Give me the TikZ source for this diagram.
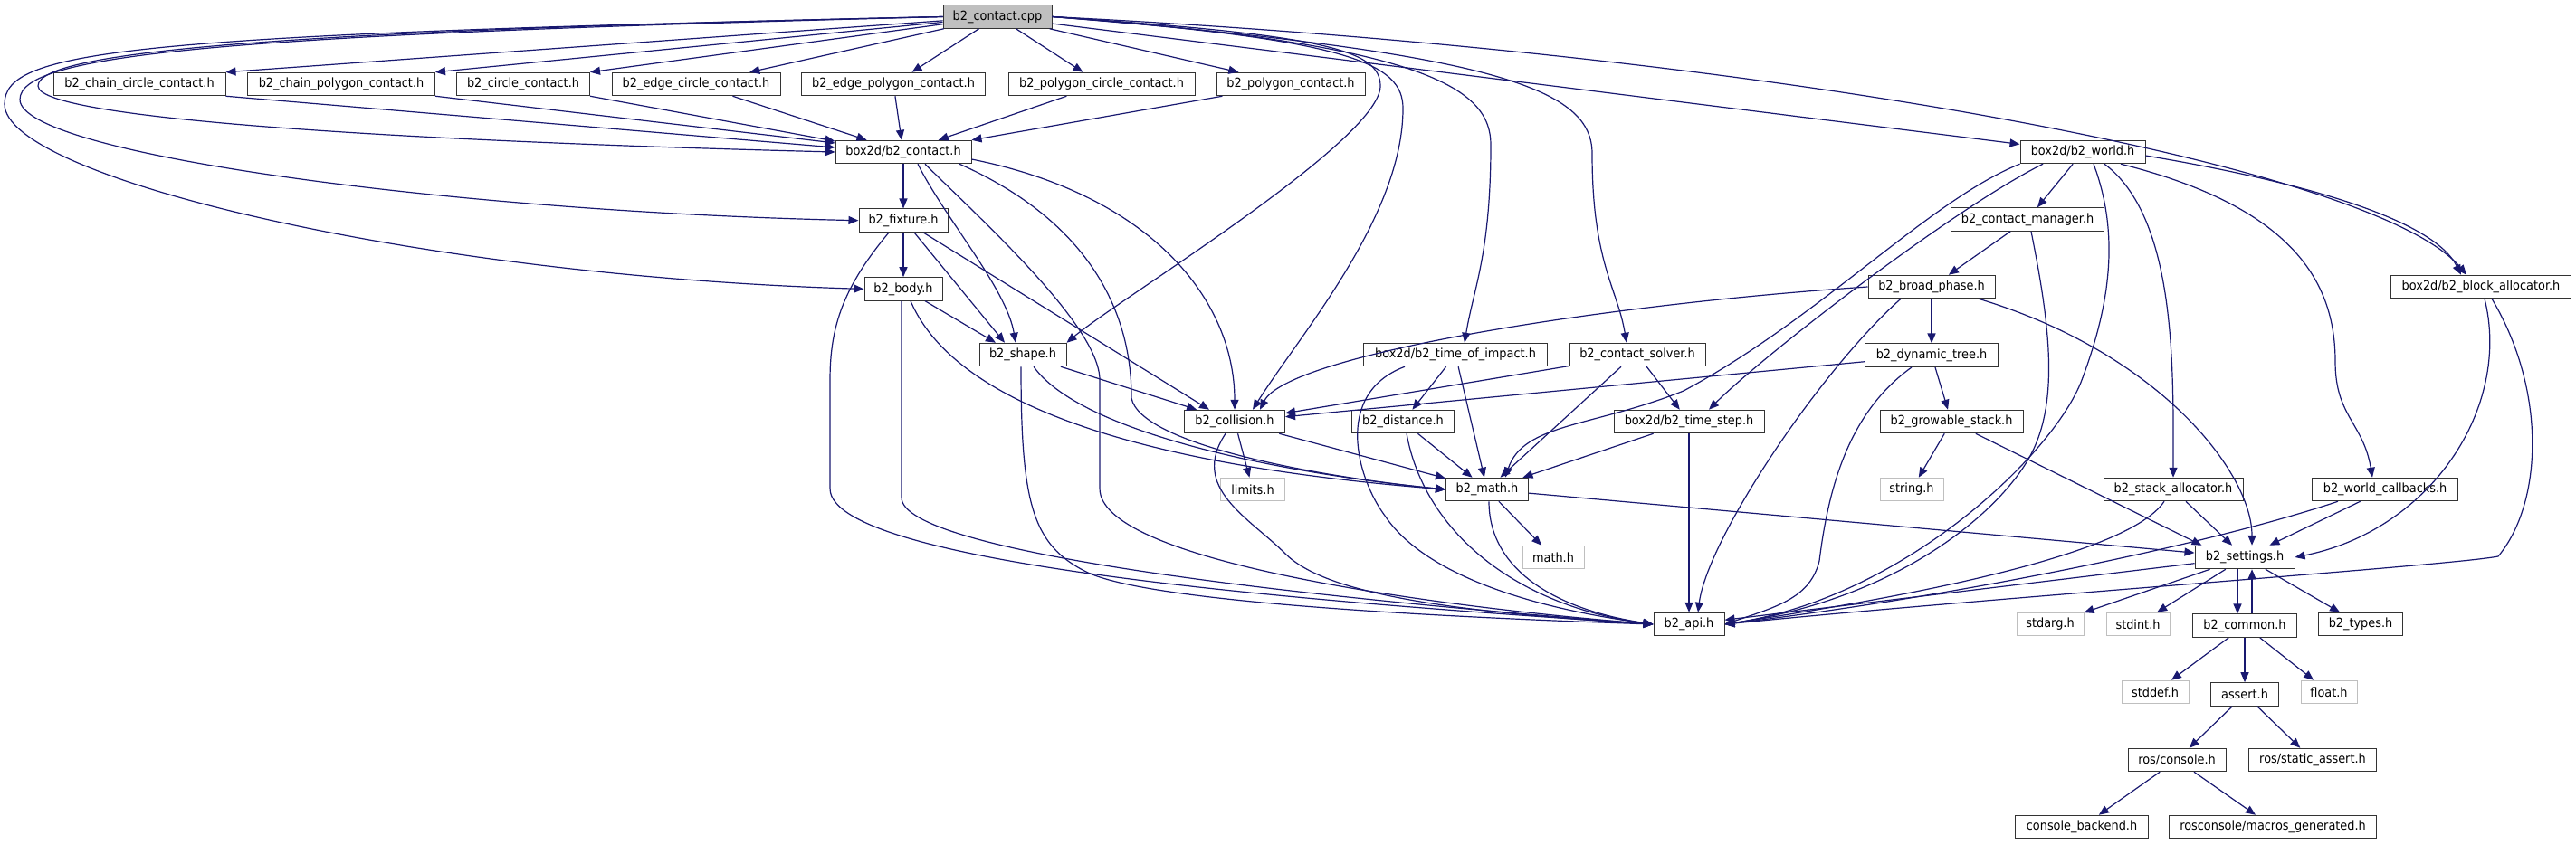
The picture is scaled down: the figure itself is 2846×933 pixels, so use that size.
\documentclass[tikz,border=0pt]{standalone}
\usepackage{fontspec}
\setmainfont{DejaVu Sans}[FakeStretch=0.92]
\usepackage{tikz}
\usetikzlibrary
  {
    arrows.meta,              % filled arrow heads
    positioning,              % place nodes relative to other nodes
  }
\definecolor{navy}{HTML}{191970}
\definecolor{rootgray}{HTML}{BFBFBF}

\begin{document}
\begin{tikzpicture}
    [
      x=0.5pt, y=0.5pt,
      node distance=24.6pt,
      >={Triangle[length=5.5pt,width=4.5pt]},
      header/.style=
        {
          rectangle,
          draw=black!80,
          fill=white,
          line width=0.5pt,
          minimum height=12.75pt,
          inner sep=1pt,
          font=\fontsize{7}{8}\selectfont,
        },
      source/.style=
        {
          header,
          fill=rootgray,
        },
      library/.style=
        {
          header,
          draw=rootgray,
        },
      uses/.style=
        {
          ->,
          draw=navy,
          line width=0.6pt,
        },
    ]
    \useasboundingbox (0,0) rectangle (2846,-933);

    % the file and what it includes first
    \node[source, minimum width=60pt]    (contact cpp)     at (1102,-18.5) {b2\_contact.cpp};
    \node[header, minimum width=95pt]    (chain circle)    at (154,-93)    {b2\_chain\_circle\_contact.h};
    \node[header, minimum width=103.5pt] (chain polygon)   at (377,-93)    {b2\_chain\_polygon\_contact.h};
    \node[header, minimum width=73.5pt]  (circle contact)  at (578,-93)    {b2\_circle\_contact.h};
    \node[header, minimum width=93pt]    (edge circle)     at (769,-93)    {b2\_edge\_circle\_contact.h};
    \node[header, minimum width=101.5pt] (edge polygon)    at (987,-93)    {b2\_edge\_polygon\_contact.h};
    \node[header, minimum width=103pt]   (polygon circle)  at (1217,-93)   {b2\_polygon\_circle\_contact.h};
    \node[header, minimum width=82pt]    (polygon contact) at (1426,-93)   {b2\_polygon\_contact.h};

    \node[header, minimum width=75pt]    (contact)         at (998,-168)   {box2d/b2\_contact.h};
    \node[header, minimum width=69pt]    (world)           at (2301,-168)  {box2d/b2\_world.h};
    \node[header, minimum width=49pt]    (fixture)         [below=of contact] {b2\_fixture.h};
    \node[header, minimum width=84.5pt]  (contact manager) at (2240,-242.5) {b2\_contact\_manager.h};
    \node[header, minimum width=43pt]    (body)            [below=of fixture] {b2\_body.h};
    \node[header, minimum width=70pt]    (broad phase)     at (2134,-317)  {b2\_broad\_phase.h};
    \node[header, minimum width=99.5pt]  (block allocator) at (2741,-317)  {box2d/b2\_block\_allocator.h};

    \node[header, minimum width=48pt]    (shape)           at (1130,-392)  {b2\_shape.h};
    \node[header, minimum width=101.5pt] (time of impact)  at (1608,-392)  {box2d/b2\_time\_of\_impact.h};
    \node[header, minimum width=75pt]    (contact solver)  at (1809,-392)  {b2\_contact\_solver.h};
    \node[header, minimum width=73.5pt]  (dynamic tree)    [below=of broad phase] {b2\_dynamic\_tree.h};

    \node[header, minimum width=55.5pt]  (collision)       at (1364,-466)  {b2\_collision.h};
    \node[header, minimum width=56.5pt]  (distance)        at (1550,-466)  {b2\_distance.h};
    \node[header, minimum width=83pt]    (time step)       at (1866,-466)  {box2d/b2\_time\_step.h};
    \node[header, minimum width=79pt]    (growable stack)  at (2156,-466)  {b2\_growable\_stack.h};

    \node[library, minimum width=35.5pt] (limits)          at (1384,-541)  {limits.h};
    \node[header, minimum width=45.5pt]  (math)            at (1643,-541)  {b2\_math.h};
    \node[library, minimum width=35pt]   (string)          at (2112,-541)  {string.h};
    \node[header, minimum width=77pt]    (stack allocator) at (2401,-541)  {b2\_stack\_allocator.h};
    \node[header, minimum width=80.5pt]  (world callbacks) at (2635,-541)  {b2\_world\_callbacks.h};

    \node[library, minimum width=34pt]   (math lib)        at (1716,-616)  {math.h};
    \node[header, minimum width=55pt]    (settings)        at (2480,-616)  {b2\_settings.h};

    \node[header, minimum width=39pt]    (api)             at (1866,-690)  {b2\_api.h};
    \node[library, minimum width=37pt]   (stdarg)          at (2265,-690)  {stdarg.h};
    \node[library, minimum width=35pt]   (stdint)          at (2362,-690)  {stdint.h};
    \node[header, minimum width=57.5pt]  (common)          [below=of settings] {b2\_common.h};
    \node[header, minimum width=46.5pt]  (types)           at (2608,-690)  {b2\_types.h};

    \node[library, minimum width=37pt]   (stddef)          at (2381,-765)  {stddef.h};
    \node[header, minimum width=37.5pt]  (assert)          [below=of common] {assert.h};
    \node[library, minimum width=31pt]   (float)           at (2573,-765)  {float.h};

    \node[header, minimum width=54pt]    (console)         at (2405,-840)  {ros/console.h};
    \node[header, minimum width=70.5pt]  (static assert)   at (2555,-840)  {ros/static\_assert.h};
    \node[header, minimum width=73.5pt]  (console backend) at (2300,-914)  {console\_backend.h};
    \node[header, minimum width=114.5pt] (macros)          at (2511,-914)  {rosconsole/macros\_generated.h};

    % b2_contact.cpp
    \draw [uses] (contact cpp) -- (chain circle.north east);
    \draw [uses] (contact cpp) -- (chain polygon.north east);
    \draw [uses] (contact cpp) -- (circle contact.north east);
    \draw [uses] (contact cpp) -- (edge circle);
    \draw [uses] (contact cpp) -- (edge polygon);
    \draw [uses] (contact cpp) -- (polygon circle);
    \draw [uses] (contact cpp) -- (polygon contact);
    \draw [uses] (contact cpp) -- (world);
    \draw [uses]
      (contact cpp.west)
      .. controls +(-700,-15) and +(0,40) .. (42,-95)
      .. controls +(0,-40) and +(-400,10) .. (contact.west);
    \draw [uses]
      (contact cpp.west)
      .. controls +(-800,-20) and +(0,50) .. (22,-110)
      .. controls +(0,-60) and +(-450,10) .. (fixture.west);
    \draw [uses]
      (contact cpp.west)
      .. controls +(-900,-20) and +(0,60) .. (5,-115)
      .. controls +(0,-80) and +(-500,15) .. (body.west);
    \draw [uses]
      (contact cpp.east)
      .. controls +(300,-20) and +(0,40) .. (1525,-95)
      .. controls +(0,-60) and +(60,50) .. (shape.north east);
    \draw [uses]
      (contact cpp.east)
      .. controls +(330,-25) and +(0,50) .. (1550,-120)
      .. controls +(0,-120) and +(50,80) .. ([xshift=10pt]collision.north);
    \draw [uses]
      (contact cpp.east)
      .. controls +(420,-30) and +(0,60) .. (1647,-160)
      .. controls +(0,-120) and +(10,60) .. ([xshift=5pt]time of impact.north);
    \draw [uses]
      (contact cpp.east)
      .. controls +(500,-40) and +(0,70) .. (1759,-170)
      .. controls +(0,-120) and +(-10,60) .. ([xshift=-6pt]contact solver.north);
    \draw [uses]
      (contact cpp.east)
      .. controls +(800,-40) and +(-100,120) .. ([xshift=-8pt]block allocator.north);

    % the contact types
    \draw [uses] (chain circle.south east) -- ([yshift=2.5pt]contact.west);
    \draw [uses] (chain polygon.south east) -- ([yshift=5pt]contact.west);
    \draw [uses] (circle contact.south east) -- ([yshift=6pt]contact.west);
    \draw [uses] (edge circle) -- (contact);
    \draw [uses] (edge polygon) -- (contact);
    \draw [uses] (polygon circle) -- (contact);
    \draw [uses] (polygon contact) -- (contact);

    % box2d/b2_contact.h
    \draw [uses] (contact) -- (fixture);
    \draw [uses]
      ([xshift=8pt]contact.south)
      .. controls +(30,-60) and +(-10,60) .. ([xshift=-4pt]shape.north);
    \draw [uses]
      ([xshift=12pt]contact.south)
      .. controls +(60,-60) and +(0,60) .. (1215,-420) -- (1215,-540)
      .. controls +(0,-80) and +(-250,20) .. (api.west);
    \draw [uses]
      ([xshift=31pt]contact.south)
      .. controls +(180,-80) and +(0,50) .. (1250,-440)
      .. controls +(10,-50) and +(-150,15) .. (math.west);
    \draw [uses]
      ([yshift=-4pt]contact.east)
      .. controls +(200,-40) and +(0,120) .. (collision.north);

    % b2_fixture.h
    \draw [uses] (fixture) -- (body);
    \draw [uses] ([xshift=6pt]fixture.south) -- ([xshift=-10pt]shape.north);
    \draw [uses] ([xshift=11pt]fixture.south) -- ([xshift=-14pt]collision.north);
    \draw [uses]
      ([xshift=-8pt]fixture.south)
      .. controls +(-50,-60) and +(0,60) .. (917,-420) -- (917,-540)
      .. controls +(0,-90) and +(-300,20) .. (api.west);

    % b2_body.h
    \draw [uses] ([xshift=12pt]body.south) -- ([xshift=-15pt]shape.north);
    \draw [uses]
      ([xshift=4pt]body.south)
      .. controls +(60,-140) and +(-250,20) .. (math.west);
    \draw [uses]
      ([xshift=-1pt]body.south) -- (996,-550)
      .. controls +(0,-60) and +(-400,30) .. (api.west);

    % b2_shape.h
    \draw [uses] (shape) -- (collision);
    \draw [uses]
      ([xshift=6pt]shape.south)
      .. controls +(50,-70) and +(-200,20) .. (math.west);
    \draw [uses]
      ([xshift=-1pt]shape.south)
      .. controls +(0,-150) and +(-60,30) .. (1200,-632)
      .. controls +(60,-30) and +(-300,10) .. (api.west);

    % b2_collision.h
    \draw [uses] (collision) -- (math);
    \draw [uses] (collision) -- (limits);
    \draw [uses]
      ([xshift=-5pt]collision.south)
      .. controls +(-40,-60) and +(-40,40) .. (1420,-612)
      .. controls +(40,-40) and +(-250,15) .. (api.west);

    % time of impact, distance, solver, time step
    \draw [uses] (time of impact) -- (distance);
    \draw [uses] (time of impact) -- (math);
    \draw [uses]
      ([xshift=-28pt]time of impact.south)
      .. controls +(-80,-30) and +(-30,40) .. (1530,-570)
      .. controls +(40,-60) and +(-150,20) .. (api.west);
    \draw [uses] (distance) -- (math);
    \draw [uses]
      ([xshift=2pt]distance.south)
      .. controls +(20,-110) and +(-150,20) .. (api.west);
    \draw [uses] (contact solver) -- (collision);
    \draw [uses] ([xshift=-9pt]contact solver.south) -- (math);
    \draw [uses] (contact solver) -- (time step);
    \draw [uses] (time step) -- (math);
    \draw [uses] (time step) -- (api);

    % box2d/b2_world.h
    \draw [uses] (world) -- (contact manager);
    \draw [uses]
      (world.south west)
      .. controls +(-100,-40) and +(150,80) .. (1860,-432)
      .. controls +(-100,-40) and +(20,60) .. ([xshift=10pt]math.north);
    \draw [uses]
      ([xshift=-22pt]world.south)
      .. controls +(-100,-50) and +(60,60) .. ([xshift=11pt]time step.north);
    \draw [uses]
      ([xshift=6pt]world.south)
      .. controls +(30,-80) and +(30,80) .. (2300,-420)
      .. controls +(-30,-80) and +(200,30) .. (api.east);
    \draw [uses]
      ([xshift=12pt]world.south)
      .. controls +(80,-60) and +(0,120) .. (stack allocator.north);
    \draw [uses]
      ([xshift=21pt]world.south)
      .. controls +(200,-50) and +(0,80) .. (2580,-400)
      .. controls +(0,-60) and +(-10,60) .. ([xshift=-7pt]world callbacks.north);
    \draw [uses]
      ([yshift=-2pt]world.east)
      .. controls +(180,-30) and +(-30,60) .. ([xshift=-11pt]block allocator.north);

    % contact manager, broad phase, dynamic tree
    \draw [uses] (contact manager) -- (broad phase);
    \draw [uses]
      ([xshift=2pt]contact manager.south)
      .. controls +(20,-100) and +(30,60) .. (2245,-500)
      .. controls +(-30,-60) and +(200,30) .. (api.east);
    \draw [uses]
      (broad phase.west)
      .. controls +(-300,-20) and +(30,60) .. ([xshift=14pt]collision.north);
    \draw [uses] (broad phase) -- (dynamic tree);
    \draw [uses]
      ([xshift=-17pt]broad phase.south)
      .. controls +(-90,-80) and +(10,80) .. ([xshift=5pt]api.north);
    \draw [uses]
      ([xshift=26pt]broad phase.south)
      .. controls +(200,-60) and +(0,80) .. ([xshift=4pt]settings.north);
    \draw [uses] (dynamic tree) -- (collision);
    \draw [uses] (dynamic tree) -- (growable stack);
    \draw [uses]
      ([xshift=-11pt]dynamic tree.south)
      .. controls +(-70,-50) and +(10,80) .. (2010,-620)
      .. controls +(-10,-40) and +(60,20) .. (api.east);
    \draw [uses] (growable stack) -- (string);
    \draw [uses] (growable stack) -- ([xshift=4pt]settings.north west);

    % allocators and callbacks
    \draw [uses] (stack allocator) -- (settings);
    \draw [uses]
      ([xshift=-5pt]stack allocator.south)
      .. controls +(-40,-60) and +(200,30) .. (api.east);
    \draw [uses] (world callbacks) -- (settings);
    \draw [uses]
      ([xshift=-26pt]world callbacks.south)
      .. controls +(-150,-50) and +(250,30) .. (api.east);
    \draw [uses]
      ([xshift=2pt]block allocator.south)
      .. controls +(30,-120) and +(150,30) .. (settings.east);
    \draw [uses]
      ([xshift=6pt]block allocator.south)
      .. controls +(60,-100) and +(50,60) .. (2760,-615)
      .. controls +(-50,-10) and +(300,30) .. (api.east);

    % b2_math.h and b2_settings.h
    \draw [uses] (math) -- (math lib);
    \draw [uses]
      ([xshift=1pt]math.south)
      .. controls +(0,-80) and +(-100,15) .. (api.west);
    \draw [uses] (math) -- (settings);
    \draw [uses] (settings) -- (api);
    \draw [uses] (settings) -- (stdarg);
    \draw [uses] (settings) -- (stdint);
    \draw [uses] ([xshift=-4pt]settings.south) -- ([xshift=-4pt]common.north);
    \draw [uses] ([xshift=4pt]common.north) -- ([xshift=4pt]settings.south);
    \draw [uses] (settings) -- (types);

    % b2_common.h and below
    \draw [uses] (common) -- (stddef);
    \draw [uses] (common) -- (assert);
    \draw [uses] (common) -- (float);
    \draw [uses] (assert) -- (console);
    \draw [uses] (assert) -- (static assert);
    \draw [uses] (console) -- (console backend);
    \draw [uses] (console) -- (macros);
\end{tikzpicture}
\end{document}
